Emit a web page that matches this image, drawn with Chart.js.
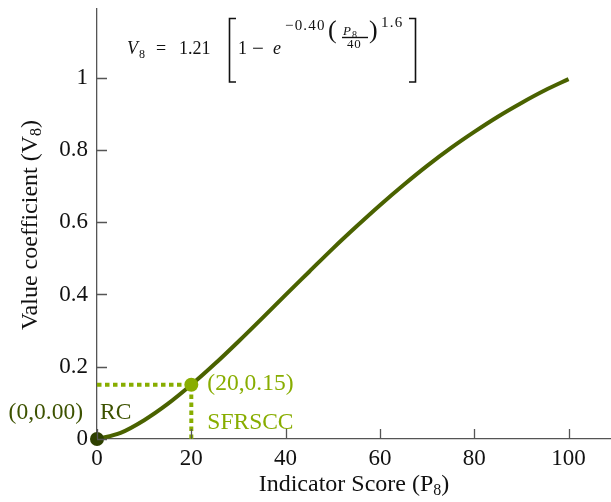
<!DOCTYPE html>
<html>
<head>
<meta charset="utf-8">
<script src="https://cdn.jsdelivr.net/npm/chart.js@4.4.0/dist/chart.umd.min.js"></script>
<style>
  html, body { margin: 0; padding: 0; background: #fff; }
  #wrap { width: 611px; height: 502px; }
</style>
</head>
<body>
<div id="wrap"><canvas id="chart"></canvas></div>
<script>
// value curve V8 against indicator score P8
const scores = [0, 5, 10, 15, 20, 25, 30, 35, 40, 45, 50, 55, 60, 65, 70, 75, 80, 85, 90, 95, 100];
const values = [0, 0.017, 0.052, 0.097, 0.150, 0.208, 0.270, 0.334, 0.399, 0.463, 0.527, 0.588, 0.647, 0.703, 0.756, 0.805, 0.850, 0.892, 0.930, 0.965, 0.996];

// marked points: RC and SFRSCC
const rcPoint = { x: 0, y: 0.00 };
const sfrsccPoint = { x: 20, y: 0.15 };

const xTicks = [0, 20, 40, 60, 80, 100];
const yTicks = [0, 0.2, 0.4, 0.6, 0.8, 1];
const yTickLabels = ['0', '0.2', '0.4', '0.6', '0.8', '1'];

const SERIF = '"Liberation Serif", "DejaVu Serif", serif';
const CURVE = '#4a6200';
const DARK = '#2e4000';
const DARK_TEXT = '#3d5200';
const LIGHT = '#88ad00';
const AXIS = '#555';

// tick marks pointing into the plot
const innerTicks = {
  id: 'innerTicks',
  afterDatasetsDraw(chart) {
    const { ctx, chartArea, scales } = chart;
    ctx.save();
    ctx.strokeStyle = AXIS;
    ctx.lineWidth = 1.3;
    ctx.beginPath();
    xTicks.forEach(v => {
      const px = Math.round(scales.x.getPixelForValue(v)) + 0.5;
      ctx.moveTo(px, chartArea.bottom);
      ctx.lineTo(px, chartArea.bottom - 10);
    });
    yTicks.forEach(v => {
      const py = Math.round(scales.y.getPixelForValue(v)) + 0.5;
      ctx.moveTo(chartArea.left, py);
      ctx.lineTo(chartArea.left + 10, py);
    });
    ctx.stroke();
    ctx.restore();
  }
};

// text with a subscript 8, e.g. "(P" + "8" + ")"
function subText(ctx, before, after, x, y, size) {
  ctx.font = size + 'px ' + SERIF;
  const wa = ctx.measureText(before).width;
  const wc = ctx.measureText(after).width;
  ctx.font = Math.round(size * 0.68) + 'px ' + SERIF;
  const wb = ctx.measureText('8').width;
  const start = x - (wa + wb + wc) / 2;
  ctx.font = size + 'px ' + SERIF;
  ctx.fillText(before, start, y);
  ctx.fillText(after, start + wa + wb, y);
  ctx.font = Math.round(size * 0.68) + 'px ' + SERIF;
  ctx.fillText('8', start + wa, y + size * 0.18);
}

// axis titles, point labels and the equation
const annotations = {
  id: 'annotations',
  afterDraw(chart) {
    const { ctx, chartArea, scales } = chart;
    ctx.save();
    ctx.fillStyle = '#111';
    ctx.textBaseline = 'alphabetic';
    ctx.textAlign = 'left';

    subText(ctx, 'Indicator Score (P', ')', (chartArea.left + chartArea.right) / 2, 491, 24);

    ctx.save();
    ctx.translate(37, (chartArea.top + chartArea.bottom) / 2 + 1);
    ctx.rotate(-Math.PI / 2);
    subText(ctx, 'Value coefficient (V', ')', 0, 0, 24);
    ctx.restore();

    // point labels
    const p0x = scales.x.getPixelForValue(rcPoint.x);
    const p0y = scales.y.getPixelForValue(rcPoint.y);
    const p1x = scales.x.getPixelForValue(sfrsccPoint.x);
    const p1y = scales.y.getPixelForValue(sfrsccPoint.y);
    ctx.font = '23.5px ' + SERIF;
    ctx.textBaseline = 'middle';
    ctx.fillStyle = DARK_TEXT;
    ctx.textAlign = 'right';
    ctx.fillText('(' + rcPoint.x + ',' + rcPoint.y.toFixed(2) + ')', p0x - 14, p0y - 26);
    ctx.textAlign = 'left';
    ctx.fillText('RC', p0x + 3, p0y - 26);
    ctx.fillStyle = LIGHT;
    ctx.fillText('(' + sfrsccPoint.x + ',' + sfrsccPoint.y + ')', p1x + 16, p1y - 1);
    ctx.fillText('SFRSCC', p1x + 16, p1y + 38);

    // equation
    ctx.fillStyle = '#111';
    ctx.strokeStyle = '#111';
    ctx.textBaseline = 'alphabetic';
    ctx.textAlign = 'left';
    ctx.font = 'italic 18px ' + SERIF;
    ctx.fillText('V', 127, 54);
    ctx.font = '12px ' + SERIF;
    ctx.fillText('8', 139, 58);
    ctx.font = '18px ' + SERIF;
    ctx.fillText('=', 156, 54);
    ctx.fillText('1.21', 179, 54);
    ctx.fillText('1', 238, 54);
    ctx.font = '21px ' + SERIF;
    ctx.fillText('\u2212', 252, 55);
    ctx.font = 'italic 18px ' + SERIF;
    ctx.fillText('e', 273, 54);
    ctx.letterSpacing = '1.2px';
    ctx.font = '15px ' + SERIF;
    ctx.fillText('\u22120.40', 285, 30);
    ctx.fillText('1.6', 381, 27);
    ctx.letterSpacing = '0.8px';
    ctx.font = '13px ' + SERIF;
    ctx.fillText('40', 347, 48);
    ctx.letterSpacing = '0px';
    ctx.font = '26px ' + SERIF;
    ctx.fillText('(', 328, 38);
    ctx.fillText(')', 369, 38);
    ctx.font = 'italic 13px ' + SERIF;
    ctx.fillText('P', 343, 35);
    ctx.font = '10px ' + SERIF;
    ctx.fillText('8', 352, 38);
    ctx.lineWidth = 1.4;
    ctx.beginPath();
    ctx.moveTo(342, 37.5);
    ctx.lineTo(368, 37.5);
    ctx.stroke();
    ctx.lineWidth = 1.6;
    ctx.beginPath();
    ctx.moveTo(236, 18.5);
    ctx.lineTo(229.5, 18.5);
    ctx.lineTo(229.5, 82);
    ctx.lineTo(236, 82);
    ctx.moveTo(409, 18.5);
    ctx.lineTo(415.5, 18.5);
    ctx.lineTo(415.5, 82);
    ctx.lineTo(409, 82);
    ctx.stroke();
    ctx.restore();
  }
};

const curveData = scores.map((s, i) => ({ x: s, y: values[i] }));

// drop the extra room Chart.js keeps for edge tick labels
function noEdgePadding(s) {
  s.paddingTop = 0;
  s.paddingBottom = 0;
  s.paddingLeft = 0;
  s.paddingRight = 0;
}

new Chart(document.getElementById('chart'), {
  type: 'line',
  data: {
    datasets: [
      {
        data: [rcPoint],
        showLine: false,
        pointRadius: 7,
        pointBackgroundColor: DARK,
        pointBorderWidth: 0,
        clip: false,
        order: 0
      },
      {
        data: [sfrsccPoint],
        showLine: false,
        pointRadius: 7,
        pointBackgroundColor: LIGHT,
        pointBorderWidth: 0,
        clip: false,
        order: 1
      },
      {
        data: curveData,
        borderColor: CURVE,
        borderWidth: 4,
        pointRadius: 0,
        cubicInterpolationMode: 'monotone',
        fill: false,
        order: 2
      },
      {
        data: [{ x: 0, y: sfrsccPoint.y }, sfrsccPoint],
        borderColor: LIGHT,
        borderWidth: 4,
        borderDash: [4.5, 3.5],
        pointRadius: 0,
        fill: false,
        order: 3
      },
      {
        data: [{ x: sfrsccPoint.x, y: 0 }, sfrsccPoint],
        borderColor: LIGHT,
        borderWidth: 4,
        borderDash: [4.5, 3.5],
        pointRadius: 0,
        fill: false,
        order: 3
      }
    ]
  },
  options: {
    responsive: true,
    maintainAspectRatio: false,
    animation: false,
    layout: { autoPadding: false, padding: { top: 9, right: 0, left: 0, bottom: 0 } },
    plugins: {
      legend: { display: false },
      tooltip: { enabled: false }
    },
    scales: {
      x: {
        type: 'linear',
        min: 0,
        max: 109,
        afterBuildTicks: s => { s.ticks = xTicks.map(v => ({ value: v })); },
        afterFit: s => { s.height = 63; noEdgePadding(s); },
        grid: { display: false, drawTicks: false },
        border: { display: true, color: AXIS, width: 1.3 },
        ticks: {
          padding: 6,
          maxRotation: 0,
          autoSkip: false,
          color: '#111',
          font: { family: SERIF, size: 23 },
          callback: v => String(v)
        }
      },
      y: {
        type: 'linear',
        min: 0,
        max: 1.19,
        afterBuildTicks: s => { s.ticks = yTicks.map(v => ({ value: v })); },
        afterFit: s => { s.width = 97; noEdgePadding(s); },
        grid: { display: false, drawTicks: false },
        border: { display: true, color: AXIS, width: 1.3 },
        ticks: {
          padding: 9,
          autoSkip: false,
          color: '#111',
          font: { family: SERIF, size: 23 },
          callback: (v, i) => yTickLabels[i]
        }
      }
    }
  },
  plugins: [innerTicks, annotations]
});
</script>
</body>
</html>
